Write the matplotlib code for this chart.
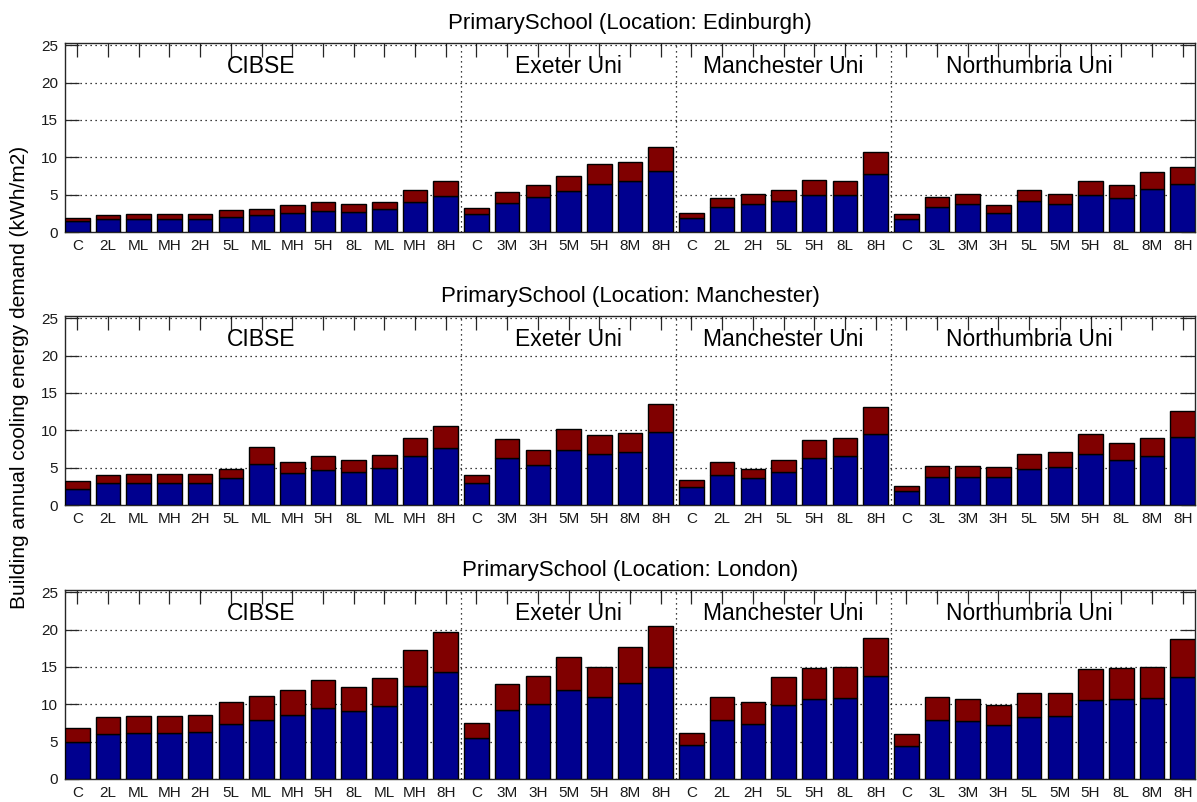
import numpy as np
import matplotlib.pyplot as plt

plt.rcParams['font.family'] = ['Liberation Sans', 'DejaVu Sans']

# bar labels and the four method groups
labels = ['C', '2L', 'ML', 'MH', '2H', '5L', 'ML', 'MH', '5H', '8L', 'ML', 'MH', '8H',
          'C', '3M', '3H', '5M', '5H', '8M', '8H',
          'C', '2L', '2H', '5L', '5H', '8L', '8H',
          'C', '3L', '3M', '3H', '5L', '5M', '5H', '8L', '8M', '8H']
groups = ['CIBSE', 'Exeter Uni', 'Manchester Uni', 'Northumbria Uni']
group_sizes = [13, 7, 7, 10]
locations = ['Edinburgh', 'Manchester', 'London']

# lower (blue) part and total bar height, kWh/m2
edinburgh_low = [1.43, 1.74, 1.74, 1.74, 1.74, 2.05, 2.23, 2.59, 2.86, 2.72, 3.04, 4.02, 4.87,
                 2.37, 3.88, 4.69, 5.45, 6.47, 6.78, 8.21,
                 1.92, 3.35, 3.70, 4.15, 5.00, 5.00, 7.72,
                 1.70, 3.35, 3.70, 2.54, 4.15, 3.70, 5.00, 4.51, 5.80, 6.43]
edinburgh_tot = [1.92, 2.28, 2.41, 2.41, 2.41, 2.90, 3.08, 3.57, 4.02, 3.75, 4.02, 5.62, 6.79,
                 3.21, 5.31, 6.29, 7.45, 9.06, 9.37, 11.34,
                 2.54, 4.51, 5.13, 5.62, 6.92, 6.79, 10.67,
                 2.41, 4.69, 5.13, 3.57, 5.62, 5.13, 6.79, 6.29, 8.08, 8.75]

manchester_low = [2.21, 2.93, 2.93, 2.93, 2.93, 3.56, 5.54, 4.23, 4.68, 4.41, 4.91, 6.53, 7.66,
                  2.93, 6.35, 5.36, 7.34, 6.85, 7.03, 9.82,
                  2.39, 4.05, 3.56, 4.37, 6.35, 6.53, 9.46,
                  1.89, 3.74, 3.74, 3.74, 4.86, 5.05, 6.85, 6.04, 6.53, 9.14]
manchester_tot = [3.24, 3.96, 4.10, 4.10, 4.10, 4.86, 7.75, 5.72, 6.53, 6.04, 6.71, 9.01, 10.63,
                  3.96, 8.83, 7.34, 10.18, 9.32, 9.64, 13.56,
                  3.38, 5.72, 4.86, 6.04, 8.65, 9.01, 13.06,
                  2.61, 5.23, 5.23, 5.05, 6.85, 7.03, 9.46, 8.33, 9.01, 12.57]

london_low = [4.94, 5.97, 6.11, 6.11, 6.29, 7.41, 7.95, 8.58, 9.56, 9.12, 9.74, 12.48, 14.32,
              5.48, 9.25, 10.06, 11.85, 10.91, 12.84, 14.95,
              4.49, 7.90, 7.41, 9.88, 10.73, 10.87, 13.83,
              4.36, 7.90, 7.77, 7.27, 8.31, 8.40, 10.55, 10.73, 10.87, 13.65]
london_tot = [6.83, 8.31, 8.44, 8.44, 8.62, 10.37, 11.05, 11.90, 13.20, 12.35, 13.47, 17.24, 19.71,
              7.45, 12.66, 13.83, 16.30, 15.00, 17.60, 20.52,
              6.11, 10.91, 10.24, 13.65, 14.82, 14.95, 18.90,
              5.97, 10.91, 10.73, 9.92, 11.54, 11.54, 14.68, 14.82, 14.95, 18.72]

data = [(edinburgh_low, edinburgh_tot), (manchester_low, manchester_tot), (london_low, london_tot)]

fig = plt.figure(figsize=(11.97, 8.02), dpi=100)
frame_col = '#262626'
dots = (0, (1, 3))
x = np.arange(1, len(labels) + 1)
bounds = np.cumsum([0] + group_sizes) + 0.5
centers = [7, 17, 24, 32]

for i, (loc, (low, tot)) in enumerate(zip(locations, data)):
    bottom = [0.7107, 0.3703, 0.0287][i]
    ax = fig.add_axes([0.0543, bottom, 0.944, 0.2357])
    low = np.array(low)
    tot = np.array(tot)
    ax.bar(x, low, width=0.8, color='#00008F', edgecolor='black', linewidth=1.0, zorder=3)
    ax.bar(x, tot - low, bottom=low, width=0.8, color='#800000', edgecolor='black',
           linewidth=1.0, zorder=3)
    ax.set_xlim(0.6, 37.4)
    ax.set_ylim(0, 25.3)
    ax.set_yticks([0, 5, 10, 15, 20, 25])
    ax.set_xticks(x)
    ax.set_xticklabels(labels)
    ax.yaxis.grid(True, linestyle=dots, color='black', linewidth=0.9, zorder=0)
    for b in bounds[1:-1]:
        ax.axvline(b, linestyle=dots, color='black', linewidth=0.9, zorder=1)
    for g, c in zip(groups, centers):
        ax.text(c, 22.2, g, ha='center', va='center', fontsize=16.5)
    ax.tick_params(direction='in', length=10, width=0.9, top=True, right=True,
                   labelsize=11, colors=frame_col, labelcolor='#1a1a1a', pad=5)
    for s in ax.spines.values():
        s.set_color(frame_col)
        s.set_linewidth(1.0)
    ax.set_title('PrimarySchool (Location: %s)' % loc, fontsize=16, pad=10)

fig.text(0.0167, 0.53, 'Building annual cooling energy demand (kWh/m2)',
         rotation=90, ha='center', va='center', fontsize=15)

fig.savefig('out.png', dpi=100)
